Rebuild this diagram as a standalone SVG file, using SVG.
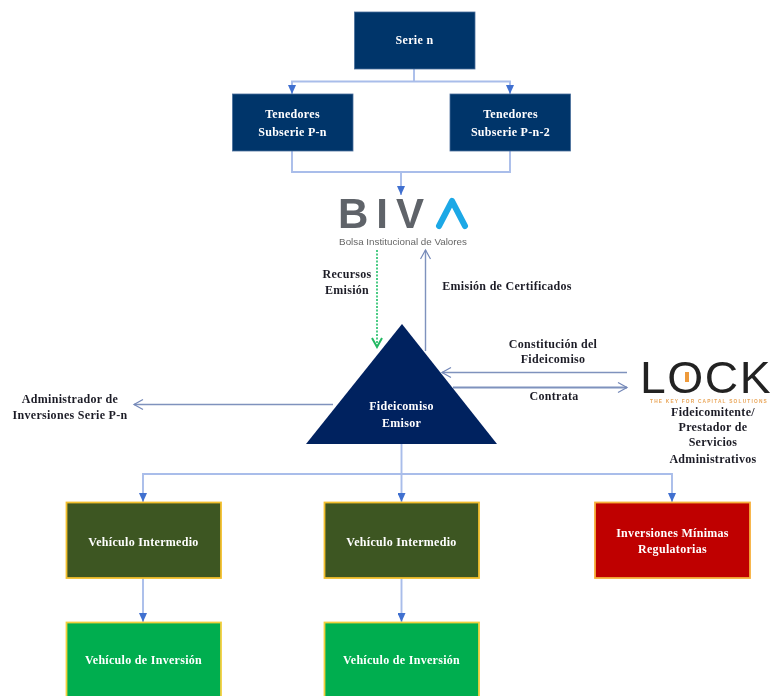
<svg xmlns="http://www.w3.org/2000/svg" width="774" height="696" viewBox="0 0 774 696">
<style>
text{font-family:"Liberation Serif","Times New Roman",serif;font-weight:700;font-size:12px;text-anchor:middle;letter-spacing:.3px}
.w{fill:#fff}.k{fill:#1e1e28}
.navy{fill:#03346a;stroke:#4a6f9c;stroke-width:.8}
.olive{fill:#3e5623;stroke:#f2bf2e;stroke-width:1.8}
.green{fill:#00ae4f;stroke:#f2cf3e;stroke-width:1.8}
.red{fill:#bf0000;stroke:#f7b03a;stroke-width:1.8}
.c{fill:none;stroke:#a9bdea;stroke-width:1.9}
.d{fill:none;stroke:#7f92bd;stroke-width:1.4}
</style>
<defs>
<filter id="b" x="-2%" y="-2%" width="104%" height="104%"><feGaussianBlur stdDeviation="0.75"/></filter>
<marker id="t" markerUnits="userSpaceOnUse" markerWidth="10" markerHeight="8" refX="9" refY="4" orient="auto"><path d="M0 0L9 4L0 8Z" fill="#3f6fd0"/></marker>
<marker id="o" markerUnits="userSpaceOnUse" markerWidth="12" markerHeight="12" refX="10" refY="6" orient="auto"><path d="M1 1L10 6L1 11" fill="none" stroke="#7488b8" stroke-width="1.2"/></marker>
<marker id="g" markerUnits="userSpaceOnUse" markerWidth="12" markerHeight="12" refX="10" refY="6" orient="auto"><path d="M1 1L10 6L1 11" fill="none" stroke="#22b862" stroke-width="2"/></marker>
</defs>
<rect width="774" height="696" fill="#fff"/>
<g filter="url(#b)">
<g id="connectors">
<path class="c" d="M414 69V81.500"/>
<path class="c" d="M414 81.500H292V94" marker-end="url(#t)"/>
<path class="c" d="M414 81.500H510V94" marker-end="url(#t)"/>
<path class="c" d="M292 151V172H510V151"/>
<path class="c" d="M401 172V195" marker-end="url(#t)"/>
<path d="M377 250V347" fill="none" stroke="#37c678" stroke-width="1.8" stroke-dasharray="2 1.500" marker-end="url(#g)"/>
<path class="d" d="M425.500 351V250" marker-end="url(#o)"/>
<path class="d" d="M627 372.500H442" marker-end="url(#o)"/>
<path class="d" d="M453 387.500H627" marker-end="url(#o)" style="stroke-width:1.8"/>
<path class="d" d="M333 404.500H134" marker-end="url(#o)"/>
<path class="c" d="M401.500 444V474"/>
<path class="c" d="M401.500 474H143V502" marker-end="url(#t)"/>
<path class="c" d="M401.500 474V502" marker-end="url(#t)"/>
<path class="c" d="M401.500 474H672V502" marker-end="url(#t)"/>
<path class="c" d="M143 578V622" marker-end="url(#t)"/>
<path class="c" d="M401.500 578V622" marker-end="url(#t)"/>
</g>
<g id="serie-n"><rect class="navy" x="354.500" y="12" width="120.500" height="57"/><text class="w" x="414.500" y="44">Serie n</text></g>
<g id="tenedores-1"><rect class="navy" x="232.500" y="94" width="120.500" height="57"/><text class="w" x="292.500" y="118">Tenedores</text><text class="w" x="292.500" y="136">Subserie P-n</text></g>
<g id="tenedores-2"><rect class="navy" x="450" y="94" width="120.500" height="57"/><text class="w" x="510.500" y="118">Tenedores</text><text class="w" x="510.500" y="136">Subserie P-n-2</text></g>
<g id="biva">
<text x="338" y="228" style="font-family:'Liberation Sans',sans-serif;font-size:42px;text-anchor:start;letter-spacing:8px;fill:#5f6369">BIV</text>
<path d="M439 226L452 201L465 226" fill="none" stroke="#1fa8e6" stroke-width="6" stroke-linecap="round" stroke-linejoin="round"/>
<text x="403" y="245" style="font-family:'Liberation Sans',sans-serif;font-weight:400;font-size:9.800px;letter-spacing:0;fill:#666">Bolsa Institucional de Valores</text>
</g>
<g id="fideicomiso"><path d="M402 324L497 444H306Z" fill="#00205f"/><text class="w" x="401.500" y="410">Fideicomiso</text><text class="w" x="401.500" y="427">Emisor</text></g>
<g id="lock">
<text transform="translate(640 393) scale(1.05 1)" x="0" y="0" style="font-family:'Liberation Sans',sans-serif;font-weight:400;font-size:44px;text-anchor:start;letter-spacing:1.500px;fill:#222">LOCK</text>
<rect x="685" y="372" width="4" height="10" fill="#ee9a3a"/>
<text x="650" y="402.500" style="font-family:'Liberation Sans',sans-serif;font-size:4.800px;text-anchor:start;letter-spacing:1.200px;fill:#e9a65a">THE KEY FOR CAPITAL SOLUTIONS</text>
<text class="k" x="713" y="416">Fideicomitente/</text><text class="k" x="713" y="431">Prestador de</text><text class="k" x="713" y="446">Servicios</text><text class="k" x="713" y="463">Administrativos</text>
</g>
<g id="labels">
<text class="k" x="347" y="278">Recursos</text><text class="k" x="347" y="294">Emisión</text>
<text class="k" x="507" y="290">Emisión de Certificados</text>
<text class="k" x="553" y="348">Constitución del</text><text class="k" x="553" y="363">Fideicomiso</text>
<text class="k" x="554" y="400">Contrata</text>
<text class="k" x="70" y="403">Administrador de</text><text class="k" x="70" y="419">Inversiones Serie P-n</text>
</g>
<g id="intermedio-1"><rect class="olive" x="66.500" y="502.500" width="154.500" height="75.500"/><text class="w" x="143.500" y="545.500">Vehículo Intermedio</text></g>
<g id="intermedio-2"><rect class="olive" x="324.500" y="502.500" width="154.500" height="75.500"/><text class="w" x="401.500" y="545.500">Vehículo Intermedio</text></g>
<g id="minimas"><rect class="red" x="595" y="502.500" width="155" height="75.500"/><text class="w" x="672.500" y="537">Inversiones Mínimas</text><text class="w" x="672.500" y="553">Regulatorias</text></g>
<g id="inversion-1"><rect class="green" x="66.500" y="622.500" width="154.500" height="80"/><text class="w" x="143.500" y="664">Vehículo de Inversión</text></g>
<g id="inversion-2"><rect class="green" x="324.500" y="622.500" width="154.500" height="80"/><text class="w" x="401.500" y="664">Vehículo de Inversión</text></g>
</g>
</svg>
